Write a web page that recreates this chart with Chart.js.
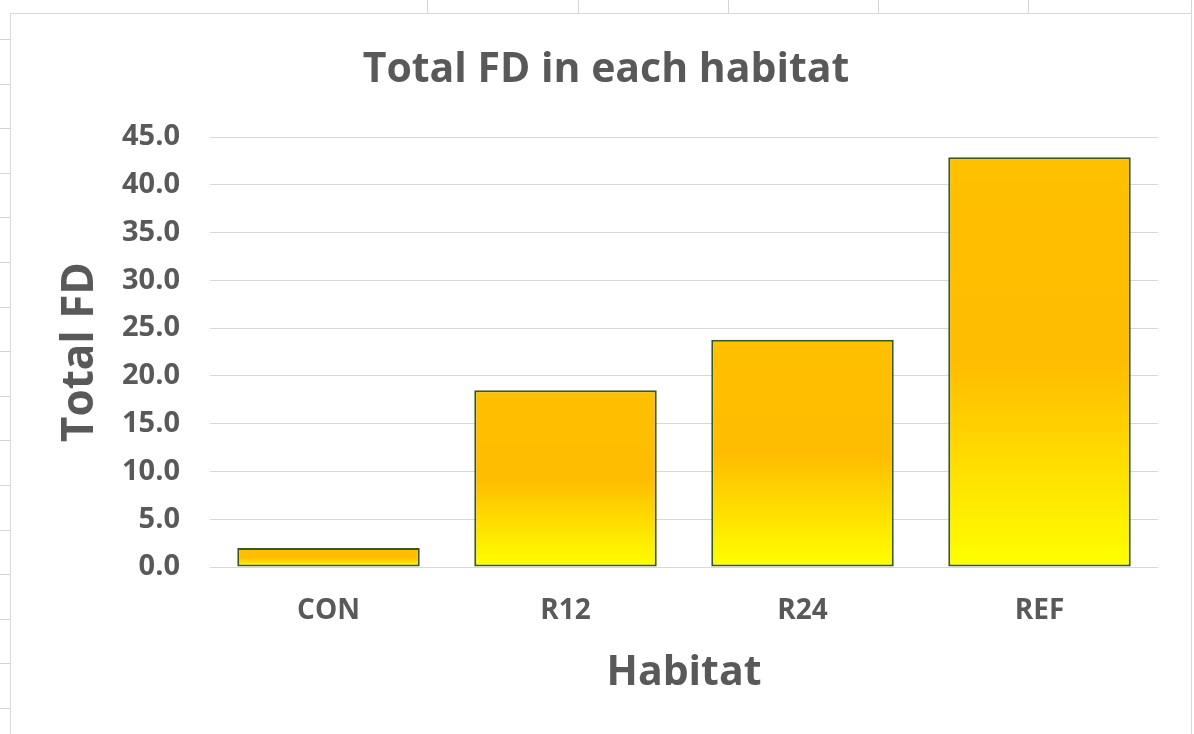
<!DOCTYPE html>
<html>
<head>
  <title>Total FD in each habitat</title>
  <meta charset="UTF-8"/>
  <style>
    body { margin: 0; background: #fff; font-family: "Open Sans", Arial; }
    #sheet { position: relative; width: 1194px; height: 734px; overflow: hidden; }
    .vline { position: absolute; top: 0; width: 1px; height: 13px; background: #d4d4d4; }
    .tick { position: absolute; left: 0; width: 10px; height: 1px; background: #d4d4d4; }
    #box {
      position: absolute; left: 10px; top: 13px; width: 1180px; height: 730px;
      border: 1px solid #d9d9d9; border-bottom: none; background: #fff;
    }
    #wrap { position: absolute; left: 0; top: 0; width: 1180px; height: 721px; }
  </style>
  <script src="https://cdn.jsdelivr.net/npm/chart.js"></script>
</head>
<body>
  <div id="sheet">
    <div id="box"><div id="wrap"><canvas id="myChart"></canvas></div></div>
  </div>
  <script>
    // data
    const habitats = ['CON', 'R12', 'R24', 'REF'];
    const totalFD = [2.0, 18.5, 23.8, 42.9];
    const yTicks = [0, 5, 10, 15, 20, 25, 30, 35, 40, 45];

    // worksheet cell lines round the chart
    const sheet = document.getElementById('sheet');
    [427, 578, 728, 878, 1028, 1191].forEach(x => {
      const d = document.createElement('div');
      d.className = 'vline'; d.style.left = x + 'px';
      sheet.appendChild(d);
    });
    for (let y = 39; y < 734; y += 44.6) {
      const d = document.createElement('div');
      d.className = 'tick'; d.style.top = Math.round(y) + 'px';
      sheet.appendChild(d);
    }

    const grey = '#595959';

    // gradient per bar: gold at the top, yellow at the base
    function barFill(c) {
      const chart = c.chart;
      if (!chart.chartArea || c.dataIndex === undefined) return '#FFC000';
      const y = chart.scales.y;
      const top = y.getPixelForValue(totalFD[c.dataIndex]);
      const base = y.getPixelForValue(0);
      const g = chart.ctx.createLinearGradient(0, top, 0, base);
      g.addColorStop(0, '#FFC000');
      g.addColorStop(0.5, '#FFBC00');
      g.addColorStop(1, '#FFFF00');
      return g;
    }

    const ctx = document.getElementById('myChart').getContext('2d');
    const chart = new Chart(ctx, {
      type: 'bar',
      data: {
        labels: habitats,
        datasets: [{
          label: 'Total FD',
          data: totalFD,
          backgroundColor: barFill,
          borderColor: '#375A1F',
          borderWidth: 2,
          borderSkipped: false,
          categoryPercentage: 1,
          barPercentage: 0.77
        }]
      },
      options: {
        responsive: true,
        maintainAspectRatio: false,
        animation: false,
        layout: { padding: { left: 43, right: 33, top: 18, bottom: 37 } },
        plugins: {
          legend: { display: false },
          tooltip: { enabled: false },
          title: {
            display: true,
            text: 'Total FD in each habitat',
            color: grey,
            font: { family: 'Open Sans', size: 41, weight: 'bold' },
            padding: { top: 14, bottom: 42 }
          }
        },
        scales: {
          x: {
            grid: { display: false },
            border: { display: false },
            afterFit: s => { s.height = 131; },
            ticks: { color: grey, font: { family: 'Open Sans', size: 28, weight: 'bold' }, padding: 19 },
            title: {
              display: true, text: 'Habitat', color: grey,
              font: { family: 'Open Sans', size: 41, weight: 'bold' },
              padding: { top: 20, bottom: 0 }
            }
          },
          y: {
            min: 0,
            max: 45,
            afterBuildTicks: s => { s.ticks = yTicks.map(v => ({ value: v })); },
            afterFit: s => { s.width = 156; },
            grid: { color: '#d9d9d9', lineWidth: 1, drawTicks: false },
            border: { display: false },
            ticks: {
              color: grey, padding: 30,
              font: { family: 'Open Sans', size: 29, weight: 'bold' },
              callback: v => v.toFixed(1)
            },
            title: {
              display: true, text: 'Total FD', color: grey,
              font: { family: 'Open Sans', size: 44, weight: 'bold' },
              padding: { top: 0, bottom: 11 }
            }
          }
        }
      }
    });
  </script>
</body>
</html>
